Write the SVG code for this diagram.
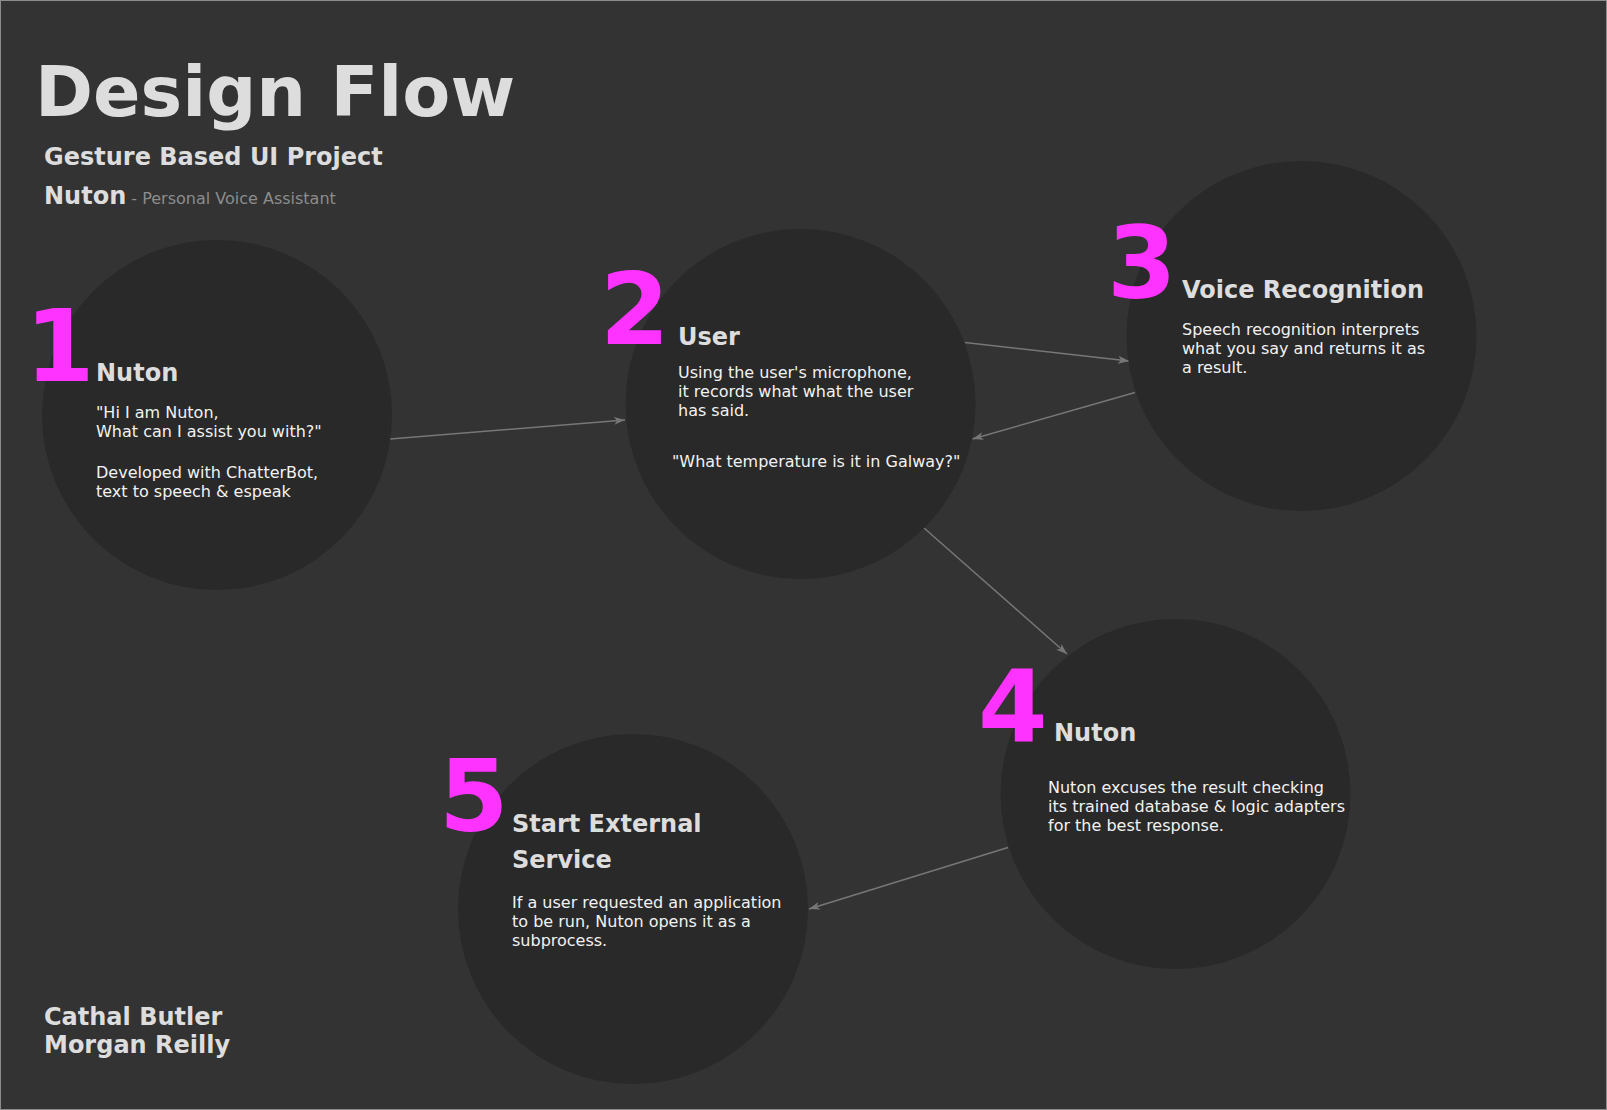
<svg xmlns="http://www.w3.org/2000/svg" width="1607" height="1110" viewBox="0 0 1607 1110">
<style>
text { font-family: "DejaVu Sans", Verdana, sans-serif; }
.node { fill: #292929; }
.num { font-size: 100px; font-weight: bold; fill: #ff33ff; }
.head { font-size: 24px; font-weight: bold; fill: #dddddd; }
.body { font-size: 16px; fill: #f2f2f2; }
.edge { stroke: #777777; stroke-width: 1.5; fill: none; marker-end: url(#arr); }
</style>
<defs>
<marker id="arr" markerUnits="userSpaceOnUse" markerWidth="12" markerHeight="10" refX="11" refY="5" orient="auto">
<path d="M0,1 L11,5 L0,9 L3,5 Z" fill="#777777"/>
</marker>
</defs>
<rect x="0.5" y="0.5" width="1606" height="1109" fill="#333333" stroke="#8c8c8c" stroke-width="1"/>

<g id="header">
<text x="35" y="116" font-size="70" font-weight="bold" fill="#dddddd">Design Flow</text>
<text x="44" y="165" font-size="24" font-weight="bold" fill="#dddddd">Gesture Based UI Project</text>
<text x="44" y="204"><tspan font-size="24" font-weight="bold" fill="#dddddd">Nuton</tspan><tspan font-size="16" fill="#8c8c8c"> - Personal Voice Assistant</tspan></text>
</g>

<g id="edges">
<line class="edge" x1="390" y1="439" x2="625" y2="420"/>
<line class="edge" x1="965" y1="342.5" x2="1129" y2="361"/>
<line class="edge" x1="1135" y1="392.5" x2="972.5" y2="439"/>
<line class="edge" x1="924" y1="528" x2="1067" y2="654"/>
<line class="edge" x1="1008" y1="847.5" x2="809" y2="909"/>
</g>

<g id="node1">
<circle class="node" cx="217" cy="415" r="175"/>
<text class="num" x="25" y="381">1</text>
<text class="head" x="96" y="381">Nuton</text>
<text class="body" x="96" y="418">"Hi I am Nuton,</text>
<text class="body" x="96" y="437">What can I assist you with?"</text>
<text class="body" x="96" y="478">Developed with ChatterBot,</text>
<text class="body" x="96" y="497">text to speech &amp; espeak</text>
</g>

<g id="node2">
<circle class="node" cx="800.5" cy="404" r="175"/>
<text class="num" x="600" y="344">2</text>
<text class="head" x="678" y="345">User</text>
<text class="body" x="678" y="378">Using the user's microphone,</text>
<text class="body" x="678" y="397">it records what what the user</text>
<text class="body" x="678" y="416">has said.</text>
<text class="body" x="672" y="467">"What temperature is it in Galway?"</text>
</g>

<g id="node3">
<circle class="node" cx="1301.5" cy="336" r="175"/>
<text class="num" x="1107" y="298">3</text>
<text class="head" x="1182" y="298">Voice Recognition</text>
<text class="body" x="1182" y="335">Speech recognition interprets</text>
<text class="body" x="1182" y="354">what you say and returns it as</text>
<text class="body" x="1182" y="373">a result.</text>
</g>

<g id="node4">
<circle class="node" cx="1175.5" cy="794" r="175"/>
<text class="num" x="978" y="741">4</text>
<text class="head" x="1054" y="741">Nuton</text>
<text class="body" x="1048" y="793">Nuton excuses the result checking</text>
<text class="body" x="1048" y="812">its trained database &amp; logic adapters</text>
<text class="body" x="1048" y="831">for the best response.</text>
</g>

<g id="node5">
<circle class="node" cx="633" cy="909" r="175"/>
<text class="num" x="439" y="831">5</text>
<text class="head" x="512" y="832">Start External</text>
<text class="head" x="512" y="868">Service</text>
<text class="body" x="512" y="908">If a user requested an application</text>
<text class="body" x="512" y="927">to be run, Nuton opens it as a</text>
<text class="body" x="512" y="946">subprocess.</text>
</g>

<g id="authors">
<text x="44" y="1025" font-size="24" font-weight="bold" fill="#dddddd">Cathal Butler</text>
<text x="44" y="1053" font-size="24" font-weight="bold" fill="#dddddd">Morgan Reilly</text>
</g>
</svg>
